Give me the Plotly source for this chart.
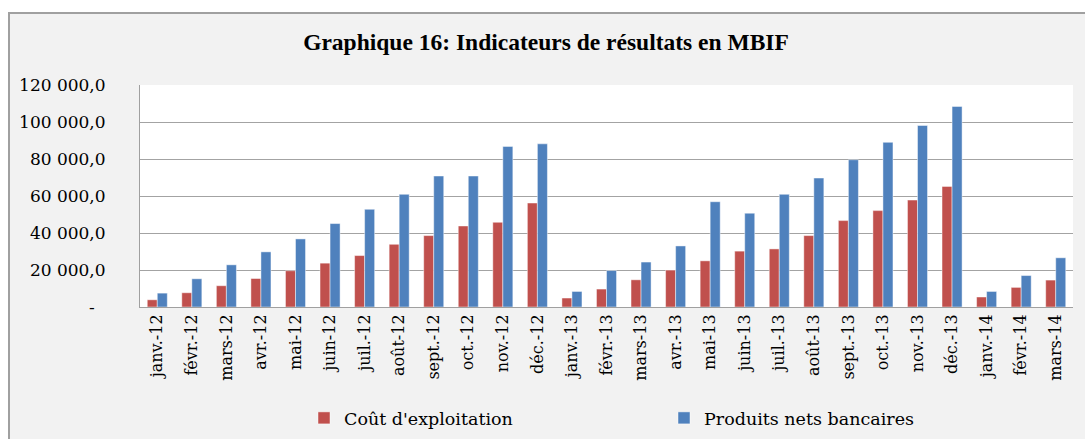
import plotly.graph_objects as go

months = ["janv.-12", "févr.-12", "mars-12", "avr.-12", "mai-12", "juin-12", "juil.-12",
          "août-12", "sept.-12", "oct.-12", "nov.-12", "déc.-12",
          "janv.-13", "févr.-13", "mars-13", "avr.-13", "mai-13", "juin-13", "juil.-13",
          "août-13", "sept.-13", "oct.-13", "nov.-13", "déc.-13",
          "janv.-14", "févr.-14", "mars-14"]

cout_exploitation = [3900, 7700, 11500, 15400, 19600, 23700, 27800, 33900, 38600, 43800, 45800, 56200,
                     4850, 9700, 14700, 19950, 24950, 30200, 31400, 38600, 46700, 52100, 57800, 65200,
                     5400, 10600, 14550]

produits_nets_bancaires = [7500, 15250, 22800, 29800, 36800, 45100, 52800, 60900, 70800, 70800, 86800, 88200,
                           8400, 19700, 24300, 33000, 56900, 50700, 60900, 69700, 79600, 89000, 98100, 108400,
                           8400, 17000, 26600]

y_tickvals = [0, 20000, 40000, 60000, 80000, 100000, 120000]
y_ticktext = ["-" + "\u00a0" * 2, "20 000,0", "40 000,0", "60 000,0", "80 000,0", "100 000,0", "120 000,0"]

# layout geometry (pixels)
W, H = 1085, 439
L, R, T, B = 140, 12, 85, 132
pw, ph = W - L - R, H - T - B


def px_x(x):
    return (x - L) / pw


def px_y(y):
    return (H - B - y) / ph


fig = go.Figure()
fig.add_trace(go.Bar(x=months, y=cout_exploitation, name="Coût d'exploitation",
                     marker=dict(color="#c0504d", line=dict(color="rgba(255,255,255,0.45)", width=1))))
fig.add_trace(go.Bar(x=months, y=produits_nets_bancaires, name="Produits nets bancaires",
                     marker=dict(color="#4f81bd", line=dict(color="rgba(255,255,255,0.45)", width=1))))

shapes = [
    # white outside the chart frame
    dict(type="rect", xref="paper", yref="paper", x0=px_x(-2), x1=px_x(8), y0=px_y(H + 2), y1=px_y(-2),
         fillcolor="white", line=dict(width=0), layer="above"),
    dict(type="rect", xref="paper", yref="paper", x0=px_x(-2), x1=px_x(W + 2), y0=px_y(12), y1=px_y(-2),
         fillcolor="white", line=dict(width=0), layer="above"),
    # frame lines
    dict(type="line", xref="paper", yref="paper", x0=px_x(9), x1=px_x(9), y0=px_y(H + 2), y1=px_y(12),
         line=dict(color="#a0a0a0", width=2)),
    dict(type="line", xref="paper", yref="paper", x0=px_x(8), x1=px_x(W + 2), y0=px_y(13), y1=px_y(13),
         line=dict(color="#a0a0a0", width=2)),
]

fig.update_layout(
    width=W, height=H,
    margin=dict(l=L, r=R, t=T, b=B, autoexpand=False),
    paper_bgcolor="#f2f2f2",
    plot_bgcolor="white",
    barmode="group",
    bargap=0.42,
    bargroupgap=0,
    title=dict(text="<b>Graphique 16: Indicateurs de résultats en MBIF</b>",
               x=546 / W, xanchor="center", xref="container",
               y=1 - 42 / H, yanchor="middle", yref="container",
               font=dict(family="Liberation Serif", size=23.5, color="black")),
    showlegend=True,
    legend=dict(orientation="h", xref="container", yref="container",
                x=304 / W, xanchor="left", y=1 - 418 / H, yanchor="middle",
                bgcolor="rgba(0,0,0,0)", entrywidth=315, entrywidthmode="pixels",
                font=dict(family="DejaVu Serif", size=17.5, color="black")),
    shapes=shapes,
    xaxis=dict(type="category", tickangle=-90, showgrid=False, showline=True,
               linecolor="#a0a0a0", linewidth=1, ticks="", automargin=False,
               tickfont=dict(family="DejaVu Serif", size=16, color="black")),
    yaxis=dict(range=[0, 120000], tickvals=y_tickvals, ticktext=y_ticktext,
               showgrid=True, gridcolor="#a3a3a3", gridwidth=1.3, automargin=False,
               showline=True, linecolor="#a0a0a0", linewidth=1, zeroline=False,
               ticklabelstandoff=30,
               tickfont=dict(family="DejaVu Serif", size=17, color="black")),
)

fig.write_html("out.html", config={"displayModeBar": False},
               post_script="document.body.style.margin='0';document.body.style.overflow='hidden';")
